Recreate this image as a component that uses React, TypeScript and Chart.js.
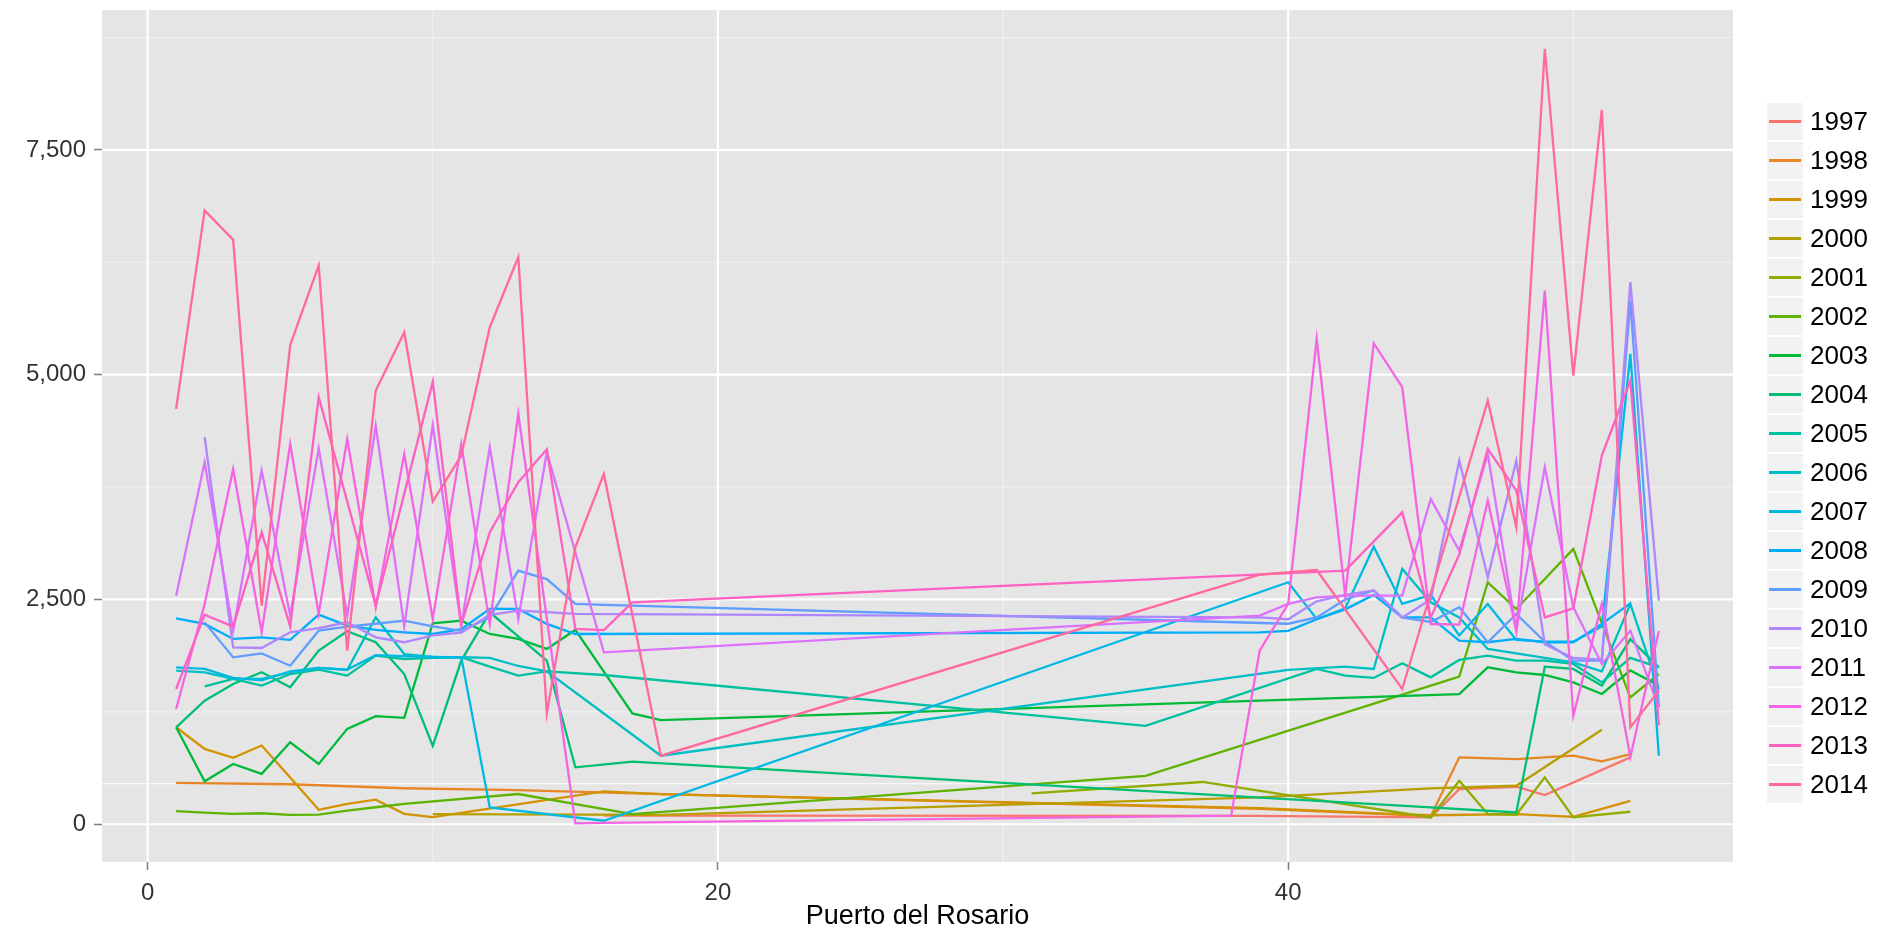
import { useEffect, useRef } from 'react';
import { Chart, registerables } from 'chart.js';

Chart.register(...registerables);

const years = ['1997', '1998', '1999', '2000', '2001', '2002', '2003', '2004', '2005', '2006', '2007', '2008', '2009', '2010', '2011', '2012', '2013', '2014'];
const xTicks = [0, 20, 40];
const xMinor = [10, 30, 50];
const yTicks = [0, 2500, 5000, 7500];
const yMinor = [1250, 3750, 6250, 8750];

type P = [number, number];
const s1997: P[] = [[16, 95], [18, 95], [39, 94], [44, 80], [45, 76], [46, 391], [48, 417], [49, 325], [52, 744]];
const s1998: P[] = [[1, 460], [5, 445], [9, 400], [13, 380], [18, 335], [39, 170], [44, 105], [45, 90], [46, 744], [48, 725], [50, 762], [51, 699], [52, 781]];
const s1999: P[] = [[1, 1079], [2, 838], [3, 738], [4, 875], [5, 520], [6, 160], [7, 226], [8, 274], [9, 115], [10, 80], [16, 365], [18, 335], [39, 180], [44, 110], [45, 100], [48, 113], [50, 83], [52, 261]];
const s2000: P[] = [[10, 113], [18, 105], [39, 298], [45, 399], [48, 428], [51, 1051]];
const s2001: P[] = [[31, 343], [37, 470], [45, 76], [46, 484], [47, 113], [48, 105], [49, 521], [50, 76], [52, 139]];
const s2002: P[] = [[1, 145], [2, 130], [3, 115], [4, 122], [5, 104], [6, 108], [7, 152], [8, 189], [9, 226], [13, 336], [17, 113], [35, 539], [45, 1541], [46, 1641], [47, 2691], [48, 2394], [50, 3062], [52, 1411], [53, 1671]];
const s2003: P[] = [[1, 1079], [2, 478], [3, 671], [4, 560], [5, 912], [6, 671], [7, 1061], [8, 1202], [9, 1183], [10, 2235], [11, 2265], [12, 2116], [13, 2061], [14, 1950], [15, 2161], [17, 1233], [18, 1159], [46, 1448], [47, 1745], [48, 1690], [49, 1660], [50, 1578], [51, 1449], [52, 1710], [53, 1543]];
const s2004: P[] = [[1, 1077], [2, 1374], [3, 1560], [4, 1690], [5, 1523], [6, 1931], [7, 2146], [8, 2024], [9, 1671], [10, 872], [11, 1820], [12, 2357], [14, 1820], [15, 633], [17, 696], [45, 187], [48, 131], [49, 1752], [50, 1727], [51, 1541], [52, 2058], [53, 1745]];
const s2005: P[] = [[2, 1534], [3, 1616], [4, 1542], [5, 1671], [6, 1720], [7, 1653], [8, 1875], [9, 1838], [10, 1850], [11, 1857], [12, 1753], [13, 1653], [14, 1700], [16, 1660], [35, 1095], [41, 1727], [42, 1653], [43, 1627], [44, 1790], [45, 1634], [46, 1827], [47, 1876], [48, 1820], [49, 1820], [50, 1783], [51, 1578], [52, 1850], [53, 1745]];
const s2006: P[] = [[1, 1708], [2, 1690], [3, 1616], [4, 1616], [5, 1690], [6, 1738], [7, 1716], [8, 2302], [9, 1893], [10, 1860], [11, 1857], [12, 1850], [13, 1760], [14, 1700], [18, 762], [40, 1716], [42, 1753], [43, 1727], [44, 2839], [45, 2468], [46, 2300], [47, 1950], [48, 1900], [49, 1850], [50, 1800], [51, 1700], [52, 2450], [53, 1500]];
const s2007: P[] = [[1, 1745], [2, 1727], [3, 1627], [4, 1600], [5, 1700], [6, 1740], [7, 1720], [8, 1880], [9, 1870], [10, 1860], [11, 1857], [12, 187], [16, 39], [40, 2691], [41, 2283], [42, 2400], [43, 3087], [44, 2450], [45, 2550], [46, 2100], [47, 2450], [48, 2050], [49, 2030], [50, 2030], [51, 2200], [52, 5232], [53, 762]];
const s2008: P[] = [[1, 2290], [2, 2228], [3, 2061], [4, 2079], [5, 2050], [6, 2331], [7, 2209], [8, 2161], [9, 2135], [10, 2116], [11, 2170], [12, 2395], [13, 2395], [14, 2228], [15, 2116], [39, 2135], [40, 2150], [41, 2280], [42, 2390], [43, 2550], [44, 2300], [45, 2300], [46, 2042], [47, 2024], [48, 2061], [49, 2024], [50, 2024], [51, 2228], [52, 2457]];
const s2009: P[] = [[2, 2245], [3, 1856], [4, 1900], [5, 1763], [6, 2153], [7, 2198], [8, 2230], [9, 2265], [10, 2200], [11, 2150], [12, 2300], [13, 2821], [14, 2727], [15, 2450], [16, 2440], [40, 2230], [41, 2300], [42, 2500], [43, 2600], [44, 2300], [45, 2250], [46, 2413], [47, 2024], [48, 2338], [49, 2030], [50, 1820], [51, 1820], [52, 5825], [53, 1300]];
const s2010: P[] = [[2, 4306], [3, 1968], [4, 1960], [5, 2135], [6, 2180], [7, 2246], [8, 2079], [9, 2024], [10, 2100], [11, 2130], [12, 2330], [13, 2376], [14, 2360], [15, 2339], [39, 2300], [40, 2280], [41, 2480], [42, 2550], [43, 2600], [44, 2300], [45, 2500], [46, 4045], [47, 2746], [48, 4045], [49, 2000], [50, 1850], [51, 1830], [52, 6029], [53, 2487]];
const s2011: P[] = [[1, 2542], [2, 4025], [3, 2153], [4, 3934], [5, 2320], [6, 4182], [7, 2320], [8, 4433], [9, 2200], [10, 4440], [11, 2200], [12, 4193], [13, 2283], [14, 4137], [16, 1912], [39, 2320], [40, 2450], [41, 2524], [42, 2543], [43, 2543], [44, 2543], [45, 3617], [46, 3042], [47, 4119], [48, 2153], [49, 3970], [50, 2413], [51, 1783], [52, 2153], [53, 1300]];
const s2012: P[] = [[1, 1281], [2, 2450], [3, 3952], [4, 2135], [5, 4230], [6, 2338], [7, 4285], [8, 2413], [9, 4119], [10, 2283], [11, 4230], [12, 2228], [13, 4563], [15, 10], [16, 15], [38, 95], [39, 1931], [40, 2450], [41, 5398], [42, 2543], [43, 5350], [44, 4861], [45, 2227], [46, 2220], [47, 3600], [48, 2153], [49, 5936], [50, 1207], [51, 2450], [52, 750], [53, 2150]];
const s2013: P[] = [[1, 1504], [2, 2331], [3, 2198], [4, 3247], [5, 2200], [6, 4749], [8, 2431], [10, 4923], [11, 2220], [12, 3247], [13, 3804], [14, 4170], [15, 2172], [16, 2160], [17, 2468], [42, 2821], [44, 3469], [45, 2300], [46, 3000], [47, 4175], [48, 3711], [49, 2300], [50, 2400], [51, 4100], [52, 4935], [53, 1100]];
const s2014: P[] = [[1, 4620], [2, 6827], [3, 6500], [4, 2431], [5, 5330], [6, 6215], [7, 1931], [8, 4823], [9, 5472], [10, 3589], [11, 4100], [12, 5528], [13, 6307], [14, 1233], [15, 3080], [16, 3896], [18, 762], [39, 2776], [41, 2827], [44, 1504], [47, 4712], [48, 3302], [49, 8625], [50, 4990], [51, 7946], [52, 1077], [53, 1486]];

const seriesList = [s1997, s1998, s1999, s2000, s2001, s2002, s2003, s2004, s2005, s2006, s2007, s2008, s2009, s2010, s2011, s2012, s2013, s2014];

function hclHex(h: number, c: number, l: number): string {
  const Xn = 95.047, Yn = 100.0, Zn = 108.883;
  const den = Xn + 15 * Yn + 3 * Zn;
  const un = (4 * Xn) / den, vn = (9 * Yn) / den;
  const hr = (h * Math.PI) / 180;
  const U = c * Math.cos(hr), V = c * Math.sin(hr);
  const Y = Yn * (l > 7.999592 ? Math.pow((l + 16) / 116, 3) : l / 903.3);
  const u = U / (13 * l) + un, v = V / (13 * l) + vn;
  const X = (9 * Y * u) / (4 * v);
  const Z = -X / 3 - 5 * Y + (3 * Y) / v;
  const g = (t: number) => (t > 0.0031308 ? 1.055 * Math.pow(t, 1 / 2.4) - 0.055 : 12.92 * t);
  const r = g((3.240479 * X - 1.53715 * Y - 0.498535 * Z) / 100);
  const gg = g((-0.969256 * X + 1.875992 * Y + 0.041556 * Z) / 100);
  const b = g((0.055648 * X - 0.204043 * Y + 1.057311 * Z) / 100);
  const hx = (t: number) => Math.round(Math.max(0, Math.min(1, t)) * 255).toString(16).padStart(2, '0');
  return '#' + hx(r) + hx(gg) + hx(b);
}

const colors = years.map((_, i) => hclHex(15 + (360 / years.length) * i, 100, 65));

const W = 1877;
const H = 933;
const PANEL = { left: 102, right: 1733, top: 10, bottom: 862 };
const FONT = "'Liberation Sans', Arial, Helvetica, sans-serif";
const REF_LINE = 450;

const panelPlugin = {
  id: 'ggpanel',
  beforeDatasetsDraw(chart: any) {
    const { ctx, chartArea: a, scales } = chart;
    const xs = scales.x, ys = scales.y;
    ctx.save();
    ctx.fillStyle = '#E5E5E5';
    ctx.fillRect(a.left, a.top, a.right - a.left, a.bottom - a.top);
    ctx.strokeStyle = '#F2F2F2';
    ctx.lineWidth = 1.1;
    for (const v of xMinor) {
      const p = xs.getPixelForValue(v);
      ctx.beginPath(); ctx.moveTo(p, a.top); ctx.lineTo(p, a.bottom); ctx.stroke();
    }
    for (const v of yMinor) {
      const p = ys.getPixelForValue(v);
      ctx.beginPath(); ctx.moveTo(a.left, p); ctx.lineTo(a.right, p); ctx.stroke();
    }
    ctx.strokeStyle = '#FFFFFF';
    ctx.lineWidth = 1.1;
    {
      const p = ys.getPixelForValue(REF_LINE);
      ctx.beginPath(); ctx.moveTo(a.left, p); ctx.lineTo(a.right, p); ctx.stroke();
    }
    ctx.lineWidth = 2.2;
    for (const v of xTicks) {
      const p = xs.getPixelForValue(v);
      ctx.beginPath(); ctx.moveTo(p, a.top); ctx.lineTo(p, a.bottom); ctx.stroke();
    }
    for (const v of yTicks) {
      const p = ys.getPixelForValue(v);
      ctx.beginPath(); ctx.moveTo(a.left, p); ctx.lineTo(a.right, p); ctx.stroke();
    }
    ctx.restore();
  },
};

export default function App() {
  const ref = useRef<HTMLCanvasElement>(null);
  useEffect(() => {
    document.body.style.margin = '0';
    const canvas = ref.current;
    if (!canvas) return;
    const chart = new Chart(canvas, {
      type: 'line',
      data: {
        datasets: years.map((y, i) => ({
          label: y,
          data: seriesList[i].map(([x, v]) => ({ x, y: v })),
          borderColor: colors[i],
          backgroundColor: colors[i],
          borderWidth: 2.3,
          pointRadius: 0,
          pointHoverRadius: 0,
          fill: false,
          tension: 0,
          spanGaps: true,
          order: years.length - i,
        })),
      },
      options: {
        responsive: false,
        animation: false,
        events: [],
        layout: { padding: { left: 0, right: W - PANEL.right, top: PANEL.top, bottom: 0 } },
        plugins: { legend: { display: false }, tooltip: { enabled: false }, title: { display: false } },
        scales: {
          x: {
            type: 'linear',
            min: -1.6,
            max: 55.6,
            afterBuildTicks: (s: any) => { s.ticks = xTicks.map((v) => ({ value: v })); },
            afterFit: (s: any) => { s.height = H - PANEL.bottom; s.paddingLeft = 0; s.paddingRight = 0; },
            border: { display: false },
            grid: { drawOnChartArea: false, drawTicks: true, tickLength: 8, tickColor: '#7F7F7F', tickWidth: 1.5 },
            ticks: { font: { family: FONT, size: 24 }, color: '#333333', padding: 9, maxRotation: 0, autoSkip: false },
            title: { display: true, text: 'Puerto del Rosario', font: { family: FONT, size: 27, lineHeight: 1.2 }, color: '#000000', padding: { top: 0, bottom: 0 } },
          },
          y: {
            type: 'linear',
            min: -420,
            max: 9056,
            afterBuildTicks: (s: any) => { s.ticks = yTicks.map((v) => ({ value: v })); },
            afterFit: (s: any) => { s.width = PANEL.left; s.paddingTop = 0; s.paddingBottom = 0; },
            border: { display: false },
            grid: { drawOnChartArea: false, drawTicks: true, tickLength: 8, tickColor: '#7F7F7F', tickWidth: 1.5 },
            ticks: {
              font: { family: FONT, size: 24 },
              color: '#333333',
              padding: 8,
              autoSkip: false,
              callback: (v: any) => Number(v).toLocaleString('en-US'),
            },
          },
        },
      },
      plugins: [panelPlugin],
    });
    return () => chart.destroy();
  }, []);

  const legendTop = 102;
  const pitch = 39;
  return (
    <div style={{ position: 'relative', width: W, height: H, background: '#FFFFFF', overflow: 'hidden' }}>
      <canvas ref={ref} width={W} height={H} style={{ position: 'absolute', left: 0, top: 0, width: W, height: H }} />
      <div style={{ position: 'absolute', left: 1767, top: legendTop, fontFamily: FONT }}>
        {years.map((y, i) => (
          <div key={y} style={{ position: 'absolute', left: 0, top: i * pitch, width: 110, height: pitch }}>
            <div style={{ position: 'absolute', left: 0, top: 1, width: 36, height: pitch - 2, background: '#F2F2F2' }}>
              <div style={{ position: 'absolute', left: 2, right: 2, top: (pitch - 2) / 2 - 1.1, height: 2.3, background: colors[i] }} />
            </div>
            <div style={{ position: 'absolute', left: 43, top: 0, height: pitch, lineHeight: pitch + 'px', fontSize: 26, color: '#000000', whiteSpace: 'nowrap' }}>{y}</div>
          </div>
        ))}
      </div>
    </div>
  );
}
